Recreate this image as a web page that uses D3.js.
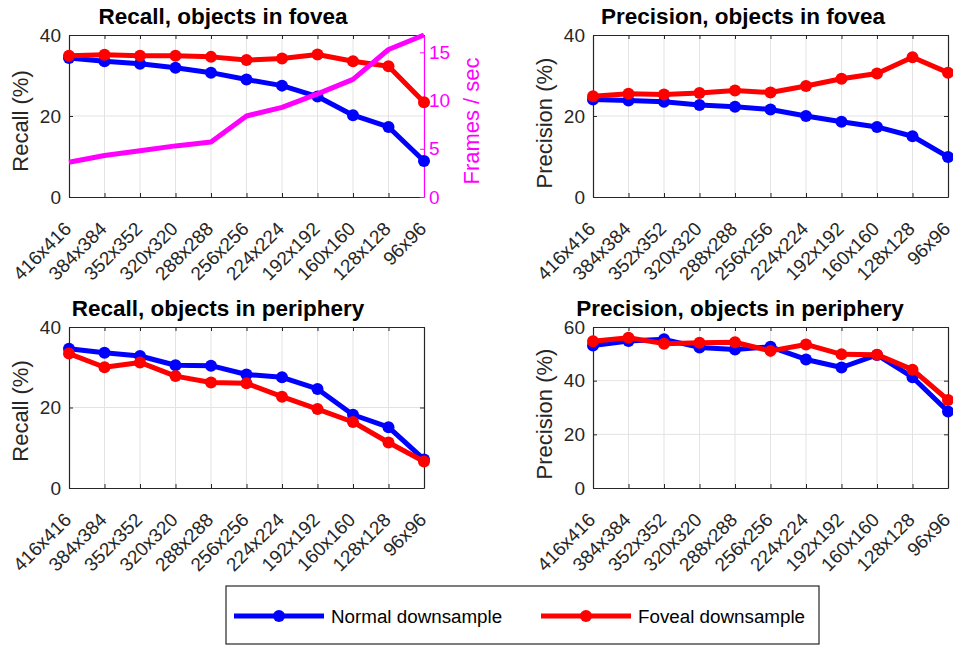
<!DOCTYPE html>
<html>
<head>
<meta charset="utf-8">
<script src="https://cdn.jsdelivr.net/npm/d3@7"></script>
<style>
  html, body { margin: 0; padding: 0; background: #fff; }
  svg { display: block; font-family: "Liberation Sans", Arial, Helvetica, sans-serif; }
</style>
</head>
<body>
<svg id="chart" width="953" height="646"></svg>
<script>
// ---------------- data ----------------
const categories = ["416x416","384x384","352x352","320x320","288x288","256x256","224x224","192x192","160x160","128x128","96x96"];

const recallFoveaNormal   = [34.3, 33.5, 32.9, 31.9, 30.7, 29.0, 27.5, 24.8, 20.2, 17.3, 8.9];
const recallFoveaFoveal   = [34.9, 35.1, 34.9, 34.9, 34.6, 33.8, 34.2, 35.2, 33.5, 32.3, 23.4];
const framesPerSec        = [3.6, 4.3, 4.8, 5.3, 5.7, 8.4, 9.3, 10.7, 12.2, 15.3, 16.8];

const precFoveaNormal     = [24.1, 23.8, 23.5, 22.7, 22.3, 21.6, 20.0, 18.6, 17.3, 15.0, 9.9];
const precFoveaFoveal     = [24.9, 25.5, 25.3, 25.7, 26.3, 25.8, 27.4, 29.2, 30.5, 34.5, 30.7];

const recallPeriphNormal  = [34.6, 33.6, 32.8, 30.5, 30.4, 28.2, 27.5, 24.6, 18.2, 15.1, 7.1];
const recallPeriphFoveal  = [33.4, 30.0, 31.2, 27.8, 26.2, 26.0, 22.7, 19.6, 16.4, 11.3, 6.6];

const precPeriphNormal    = [53.1, 54.8, 55.4, 52.4, 51.6, 52.6, 47.9, 44.9, 49.6, 41.3, 28.5];
const precPeriphFoveal    = [54.7, 56.0, 53.8, 54.1, 54.3, 51.1, 53.5, 49.8, 49.7, 44.1, 32.8];

const yTicks40 = [0, 20, 40];
const yTicks60 = [0, 20, 40, 60];
const fpsTicks = [0, 5, 10, 15];
const fpsMax = 16.8;

const seriesNames = ["Normal downsample", "Foveal downsample"];
const titles = ["Recall, objects in fovea", "Precision, objects in fovea", "Recall, objects in periphery", "Precision, objects in periphery"];
const yLabels = ["Recall (%)", "Precision (%)", "Recall (%)", "Precision (%)"];
const rightLabel = "Frames / sec";

// ---------------- styling ----------------
const BLUE = "#0000ff", RED = "#ff0000", MAG = "#ff00ff";
const AXIS = "#262626", GRID = "#e3e3e3";
const LW = 5, MR = 6;
const TICKFONT = 19, LABELFONT = 22, TITLEFONT = 22.5, LEGFONT = 18.8;

const panels = [
  { x0: 69,  x1: 424, y0: 35,  y1: 197, ymax: 40, ticks: yTicks40, a: recallFoveaNormal,  b: recallFoveaFoveal,  fps: true,  title: titles[0], ylab: yLabels[0], tx: 223, ty: 24,  lx: 28, ly: 121 },
  { x0: 593, x1: 948, y0: 35,  y1: 197, ymax: 40, ticks: yTicks40, a: precFoveaNormal,    b: precFoveaFoveal,    fps: false, title: titles[1], ylab: yLabels[1], tx: 743, ty: 24,  lx: 552, ly: 123 },
  { x0: 69,  x1: 424, y0: 327, y1: 488, ymax: 40, ticks: yTicks40, a: recallPeriphNormal, b: recallPeriphFoveal, fps: false, title: titles[2], ylab: yLabels[2], tx: 218, ty: 315.5, lx: 28, ly: 411 },
  { x0: 593, x1: 948, y0: 327, y1: 488, ymax: 60, ticks: yTicks60, a: precPeriphNormal,   b: precPeriphFoveal,   fps: false, title: titles[3], ylab: yLabels[3], tx: 740, ty: 315.5, lx: 552, ly: 414 }
];

function styleAxis(sel, color) {
  sel.attr("font-family", null).attr("font-size", TICKFONT);
  sel.selectAll(".domain").attr("stroke", color).attr("stroke-width", 1.2);
  sel.selectAll(".tick line").attr("stroke", color).attr("stroke-width", 1);
  sel.selectAll(".tick text").attr("fill", color);
  return sel;
}

const svg = d3.select("#chart");

panels.forEach(p => {
  const g = svg.append("g");
  const x = d3.scalePoint().domain(categories).range([p.x0, p.x1]).padding(0);
  const y = d3.scaleLinear().domain([0, p.ymax]).range([p.y1, p.y0]);

  // grid
  g.append("g").selectAll("line").data(categories.slice(1, -1)).join("line")
    .attr("x1", d => x(d)).attr("x2", d => x(d))
    .attr("y1", p.y0).attr("y2", p.y1)
    .attr("stroke", GRID).attr("stroke-width", 1);
  g.append("g").selectAll("line").data(p.ticks.slice(1, -1)).join("line")
    .attr("x1", p.x0).attr("x2", p.x1)
    .attr("y1", d => y(d)).attr("y2", d => y(d))
    .attr("stroke", GRID).attr("stroke-width", 1);

  // axes
  const bottom = g.append("g").attr("transform", `translate(0,${p.y1})`)
    .call(d3.axisBottom(x).tickSize(-4).tickSizeOuter(0));
  styleAxis(bottom, AXIS);
  bottom.selectAll("text")
    .attr("x", 3).attr("y", 33).attr("dy", null)
    .attr("transform", "rotate(-45,3,33)")
    .attr("text-anchor", "end");

  styleAxis(g.append("g").attr("transform", `translate(0,${p.y0})`)
    .call(d3.axisTop(x).tickSize(-4).tickSizeOuter(0).tickFormat("")), AXIS);

  styleAxis(g.append("g").attr("transform", `translate(${p.x0},0)`)
    .call(d3.axisLeft(y).tickValues(p.ticks).tickSize(-4).tickSizeOuter(0).tickPadding(8)), AXIS);

  let yr = null;
  if (p.fps) {
    yr = d3.scaleLinear().domain([0, fpsMax]).range([p.y1, p.y0]);
    styleAxis(g.append("g").attr("transform", `translate(${p.x1},0)`)
      .call(d3.axisRight(yr).tickValues(fpsTicks).tickSize(-4).tickSizeOuter(0).tickPadding(5)), MAG);

    g.append("text")
      .attr("transform", `translate(479,${p.ly}) rotate(-90)`)
      .attr("text-anchor", "middle")
      .attr("font-size", LABELFONT).attr("fill", MAG)
      .text(rightLabel);
  } else {
    styleAxis(g.append("g").attr("transform", `translate(${p.x1},0)`)
      .call(d3.axisRight(y).tickValues(p.ticks).tickSize(-4).tickSizeOuter(0).tickFormat("")), AXIS);
  }

  // y label
  g.append("text")
    .attr("transform", `translate(${p.lx},${p.ly}) rotate(-90)`)
    .attr("text-anchor", "middle")
    .attr("font-size", LABELFONT).attr("fill", AXIS)
    .text(p.ylab);

  // title
  g.append("text")
    .attr("x", p.tx).attr("y", p.ty)
    .attr("text-anchor", "middle")
    .attr("font-size", TITLEFONT).attr("font-weight", "bold").attr("fill", "#000")
    .text(p.title);

  // data lines
  const line = d3.line().x((d, i) => x(categories[i])).y(d => y(d));
  [[p.a, BLUE], [p.b, RED]].forEach(([vals, col]) => {
    g.append("path").datum(vals)
      .attr("d", line).attr("fill", "none")
      .attr("stroke", col).attr("stroke-width", LW).attr("stroke-linejoin", "round");
    g.append("g").selectAll("circle").data(vals).join("circle")
      .attr("cx", (d, i) => x(categories[i])).attr("cy", d => y(d))
      .attr("r", MR).attr("fill", col);
  });

  if (p.fps) {
    const lineR = d3.line().x((d, i) => x(categories[i])).y(d => yr(d));
    g.append("path").datum(framesPerSec)
      .attr("d", lineR).attr("fill", "none")
      .attr("stroke", MAG).attr("stroke-width", LW).attr("stroke-linejoin", "round");
  }
});

// ---------------- legend ----------------
const leg = svg.append("g");
leg.append("rect").attr("x", 226).attr("y", 586).attr("width", 593).attr("height", 58)
  .attr("fill", "#fff").attr("stroke", AXIS).attr("stroke-width", 1.2);

const legX = d3.scaleOrdinal().domain(seriesNames).range([234, 541]);
const legCol = d3.scaleOrdinal().domain(seriesNames).range([BLUE, RED]);
seriesNames.forEach(name => {
  const x0 = legX(name), yy = 616;
  leg.append("line").attr("x1", x0).attr("x2", x0 + 90).attr("y1", yy).attr("y2", yy)
    .attr("stroke", legCol(name)).attr("stroke-width", LW);
  leg.append("circle").attr("cx", x0 + 45).attr("cy", yy).attr("r", MR).attr("fill", legCol(name));
  leg.append("text").attr("x", x0 + 97).attr("y", yy + 6.5)
    .attr("font-size", LEGFONT).attr("fill", "#000").text(name);
});
</script>
</body>
</html>
